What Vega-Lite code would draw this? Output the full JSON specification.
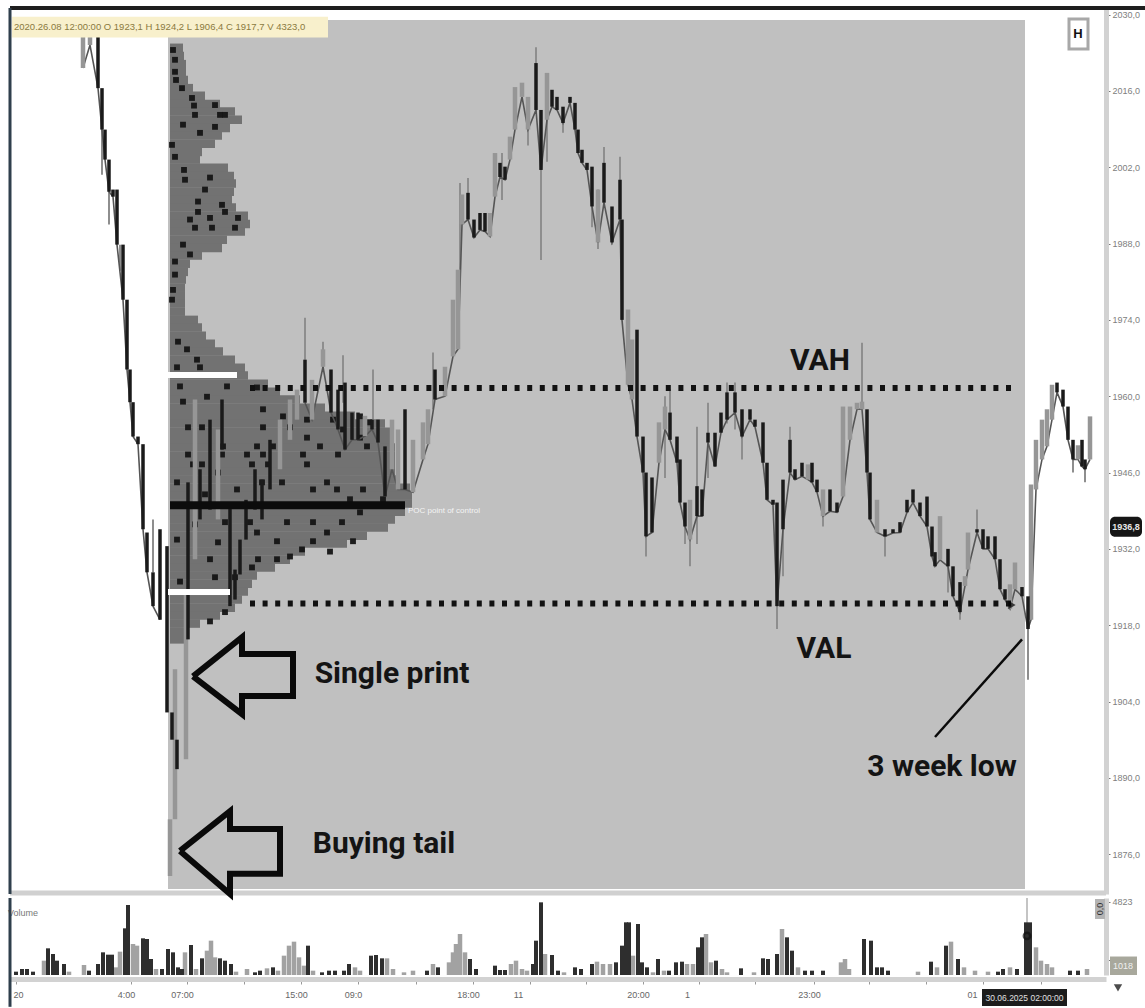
{"$schema":"https://vega.github.io/schema/vega-lite/v6.json","background":"#ffffff","padding":{"left":7,"top":6,"right":0,"bottom":0},"spacing":4,"bounds":"flush","config":{"view":{"stroke":null},"axis":{"grid":false,"labelFont":"Liberation Sans"}},
"datasets":{
"candles":[
{"t":73,"o":2026.3,"c":2020.2,"k":"g"},{"t":80,"o":2026.3,"c":2024.4,"k":"g"},{"t":88,"o":2026.8,"c":2016.5,"k":"d"},{"t":92,"o":2016.5,"c":2008.9,"k":"d"},{"t":95,"o":2008.9,"c":2003.4,"k":"d"},{"t":99,"o":2003.4,"c":1997.5,"k":"d"},{"t":103,"o":1997.9,"c":1996.6,"k":"d"},{"t":107,"o":1997.9,"c":1987.8,"k":"d"},{"t":113,"o":1987.8,"c":1977.7,"k":"d"},{"t":117,"o":1977.7,"c":1964.9,"k":"d"},{"t":120,"o":1964.9,"c":1958.9,"k":"d"},{"t":123,"o":1958.9,"c":1952.6,"k":"d"},{"t":128,"o":1952.6,"c":1951.2,"k":"d"},{"t":133,"o":1951.2,"c":1935.6,"k":"d"},{"t":137,"o":1935,"c":1927.7,"k":"d"},{"t":143,"o":1927.7,"c":1921.5,"k":"d"},{"t":150,"o":1935.6,"c":1919,"k":"d"},{"t":157,"o":1932.5,"c":1902,"k":"d"},{"t":162,"o":1902,"c":1897,"k":"d"},{"t":167,"o":1897,"c":1891.6,"k":"d"},
{"t":165,"o":1909.9,"c":1882.4,"k":"g"},{"t":160,"o":1882.4,"c":1872,"k":"g"},{"t":176,"o":1924.6,"c":1893.4,"k":"g"},
{"t":178,"o":1944.2,"c":1915.4,"k":"d"},{"t":185,"o":1959.4,"c":1930.1,"k":"g"},{"t":190,"o":1946.6,"c":1937.4,"k":"d"},{"t":200,"o":1955.7,"c":1939.2,"k":"d"},{"t":208,"o":1953.9,"c":1937.4,"k":"g"},{"t":212,"o":1959.4,"c":1950.2,"k":"d"},{"t":220,"o":1939.3,"c":1921.5,"k":"d"},{"t":225,"o":1928.2,"c":1922.7,"k":"d"},{"t":230,"o":1933.7,"c":1927.3,"k":"d"},{"t":236,"o":1941,"c":1933.7,"k":"d"},{"t":245,"o":1946.6,"c":1939.2,"k":"d"},{"t":252,"o":1944.7,"c":1937.4,"k":"d"},{"t":260,"o":1952,"c":1942.9,"k":"d"},{"t":270,"o":1955.7,"c":1946.6,"k":"g"},{"t":280,"o":1959.4,"c":1952,"k":"g"},{"t":287,"o":1961.2,"c":1955.7,"k":"g"},{"t":295,"o":1966.7,"c":1958.8,"k":"d"},{"t":302,"o":1963,"c":1955.7,"k":"g"},{"t":313,"o":1968.6,"c":1965.4,"k":"g"},{"t":321,"o":1964.9,"c":1957,"k":"d"},{"t":328,"o":1961.2,"c":1953.9,"k":"d"},{"t":335,"o":1962.5,"c":1950.2,"k":"d"},{"t":342,"o":1957,"c":1952,"k":"d"},{"t":348,"o":1957,"c":1952,"k":"d"},{"t":355,"o":1956.4,"c":1952.7,"k":"g"},{"t":362,"o":1955.7,"c":1953.9,"k":"d"},{"t":368,"o":1955.7,"c":1951.5,"k":"d"},{"t":375,"o":1950.8,"c":1941.6,"k":"d"},{"t":382,"o":1955.7,"c":1946.6,"k":"g"},{"t":388,"o":1953.9,"c":1942.9,"k":"g"},{"t":395,"o":1957.6,"c":1942.9,"k":"d"},{"t":403,"o":1952,"c":1942.4,"k":"g"},{"t":413,"o":1955.2,"c":1948.4,"k":"g"},{"t":418,"o":1957.6,"c":1951.2,"k":"g"},{"t":425,"o":1964.9,"c":1959.4,"k":"d"},{"t":435,"o":1965.4,"c":1960,"k":"g"},{"t":443,"o":1977.7,"c":1967.3,"k":"g"},{"t":448,"o":1983.2,"c":1968.6,"k":"g"},{"t":452,"o":1997,"c":1991.5,"k":"g"},{"t":458,"o":1997.3,"c":1992.4,"k":"d"},{"t":464,"o":1992.4,"c":1989.1,"k":"d"},{"t":470,"o":1993.6,"c":1990.5,"k":"d"},{"t":475,"o":1993.6,"c":1990.2,"k":"d"},{"t":480,"o":1993.6,"c":1989.3,"k":"g"},{"t":485,"o":2004.6,"c":1996.6,"k":"g"},{"t":490,"o":2002.8,"c":2000.2,"k":"d"},{"t":495,"o":2002.1,"c":1999.7,"k":"d"},{"t":500,"o":2007.6,"c":2003.4,"k":"g"},{"t":505,"o":2016.7,"c":2008.9,"k":"g"},{"t":512,"o":2017.5,"c":2014.9,"k":"g"},{"t":518,"o":2014.9,"c":2008.9,"k":"g"},{"t":526,"o":2021.1,"c":2012.5,"k":"d"},{"t":531,"o":2012.5,"c":2001.5,"k":"d"},{"t":537,"o":2019.3,"c":2010.7,"k":"g"},{"t":542,"o":2016.2,"c":2013.1,"k":"d"},{"t":547,"o":2014.9,"c":2012.5,"k":"d"},{"t":553,"o":2013.1,"c":2010.1,"k":"d"},{"t":560,"o":2014.9,"c":2013.8,"k":"d"},{"t":565,"o":2013.8,"c":2008.9,"k":"d"},{"t":568,"o":2008.9,"c":2004.6,"k":"d"},{"t":572,"o":2005.2,"c":2002.8,"k":"d"},{"t":577,"o":2002.8,"c":2001.5,"k":"d"},{"t":582,"o":2002.1,"c":1994.8,"k":"d"},{"t":588,"o":1997.9,"c":1988.2,"k":"g"},{"t":594,"o":2002.8,"c":1995.5,"k":"d"},{"t":602,"o":1994.8,"c":1988.2,"k":"d"},{"t":610,"o":1999.7,"c":1992.4,"k":"d"},{"t":612,"o":1992.4,"c":1974,"k":"d"},{"t":618,"o":1975.9,"c":1962.1,"k":"g"},{"t":622,"o":1970.4,"c":1959.4,"k":"g"},{"t":627,"o":1972.2,"c":1952.6,"k":"d"},{"t":633,"o":1952.6,"c":1946,"k":"d"},{"t":636,"o":1946,"c":1934.3,"k":"d"},{"t":642,"o":1945.1,"c":1935,"k":"d"},{"t":649,"o":1955.2,"c":1947.8,"k":"g"},{"t":655,"o":1958.1,"c":1953.9,"k":"g"},{"t":660,"o":1957,"c":1952,"k":"d"},{"t":667,"o":1952.6,"c":1947.8,"k":"d"},{"t":670,"o":1948.4,"c":1940.5,"k":"d"},{"t":675,"o":1940.5,"c":1936.1,"k":"d"},{"t":680,"o":1941,"c":1933.7,"k":"g"},{"t":687,"o":1943.5,"c":1938,"k":"d"},{"t":692,"o":1942.9,"c":1938,"k":"d"},{"t":698,"o":1953.3,"c":1951.5,"k":"d"},{"t":705,"o":1953.3,"c":1947.1,"k":"d"},{"t":711,"o":1957,"c":1953.3,"k":"d"},{"t":717,"o":1960.7,"c":1955.7,"k":"d"},{"t":725,"o":1960.7,"c":1957,"k":"d"},{"t":732,"o":1957.6,"c":1952.6,"k":"d"},{"t":740,"o":1957.6,"c":1955.7,"k":"d"},{"t":745,"o":1955.7,"c":1954.4,"k":"d"},{"t":753,"o":1955.2,"c":1947.8,"k":"d"},{"t":757,"o":1947.8,"c":1941,"k":"d"},{"t":763,"o":1941,"c":1940.1,"k":"d"},{"t":767,"o":1940.5,"c":1921.5,"k":"d"},{"t":773,"o":1944.7,"c":1935.6,"k":"d"},{"t":780,"o":1952,"c":1946,"k":"d"},{"t":785,"o":1946.6,"c":1944.7,"k":"d"},{"t":792,"o":1947.8,"c":1945.3,"k":"d"},{"t":798,"o":1947.5,"c":1944.7,"k":"g"},{"t":802,"o":1947.8,"c":1944.2,"k":"d"},{"t":807,"o":1944.7,"c":1942.4,"k":"d"},{"t":813,"o":1942.9,"c":1938,"k":"g"},{"t":820,"o":1942.9,"c":1938.9,"k":"d"},{"t":827,"o":1940.5,"c":1938.7,"k":"d"},{"t":833,"o":1958.1,"c":1941.6,"k":"g"},{"t":840,"o":1958.1,"c":1952,"k":"g"},{"t":847,"o":1958.8,"c":1957.6,"k":"g"},{"t":852,"o":1959,"c":1957.6,"k":"g"},{"t":857,"o":1957.6,"c":1946,"k":"d"},{"t":860,"o":1946,"c":1937.4,"k":"d"},{"t":867,"o":1941,"c":1935,"k":"g"},{"t":875,"o":1935.6,"c":1934.3,"k":"d"},{"t":883,"o":1935.6,"c":1934.9,"k":"d"},{"t":890,"o":1936.9,"c":1935,"k":"d"},{"t":897,"o":1941,"c":1938.7,"k":"d"},{"t":903,"o":1942.9,"c":1940.5,"k":"d"},{"t":910,"o":1940.5,"c":1938,"k":"d"},{"t":917,"o":1941.6,"c":1936.1,"k":"d"},{"t":922,"o":1936.1,"c":1930.6,"k":"d"},{"t":925,"o":1931.4,"c":1928.8,"k":"d"},{"t":930,"o":1938,"c":1930,"k":"g"},{"t":938,"o":1932,"c":1928.8,"k":"d"},{"t":943,"o":1928.8,"c":1923.3,"k":"d"},{"t":950,"o":1925.9,"c":1920.4,"k":"d"},{"t":955,"o":1927,"c":1925.2,"k":"g"},{"t":958,"o":1935,"c":1928.2,"k":"g"},{"t":967,"o":1935.6,"c":1935,"k":"d"},{"t":973,"o":1935.6,"c":1932,"k":"d"},{"t":978,"o":1934.3,"c":1932,"k":"d"},{"t":985,"o":1934.3,"c":1930.1,"k":"d"},{"t":990,"o":1930.1,"c":1924.6,"k":"d"},{"t":995,"o":1924.6,"c":1922.7,"k":"d"},{"t":1000,"o":1925.5,"c":1921,"k":"g"},{"t":1005,"o":1929.5,"c":1924.6,"k":"g"},{"t":1012,"o":1925,"c":1923.3,"k":"d"},{"t":1018,"o":1923.3,"c":1917.3,"k":"d"},{"t":1021,"o":1943.8,"c":1919,"k":"g"},{"t":1026,"o":1952,"c":1942.9,"k":"g"},{"t":1032,"o":1955.7,"c":1948.4,"k":"g"},{"t":1037,"o":1957.6,"c":1950.8,"k":"g"},{"t":1042,"o":1962.1,"c":1955.7,"k":"g"},{"t":1047,"o":1962.5,"c":1960.7,"k":"d"},{"t":1053,"o":1961.2,"c":1958.1,"k":"d"},{"t":1058,"o":1958.1,"c":1952,"k":"d"},{"t":1063,"o":1952,"c":1948.4,"k":"d"},{"t":1068,"o":1951,"c":1948.4,"k":"g"},{"t":1072,"o":1952,"c":1947.1,"k":"d"},{"t":1075,"o":1948.4,"c":1946.6,"k":"d"},{"t":1080,"o":1956.3,"c":1948.4,"k":"g"}],
"wicks":[{"t":92,"h":2008.9,"l":2000.6},{"t":99,"h":1997.5,"l":1991.5},{"t":110,"h":1987.8,"l":1983},{"t":143,"h":1937.4,"l":1927.7},{"t":295,"h":1974.4,"l":1966.7},{"t":313,"h":1970,"l":1965},{"t":333,"h":1967.5,"l":1958.8},{"t":363,"h":1964.9,"l":1955.7},{"t":382,"h":1955.2,"l":1950.8},{"t":423,"h":1968,"l":1957.6},{"t":450,"h":1999.1,"l":1983.2},{"t":458,"h":2000,"l":1997},{"t":492,"h":2004.6,"l":1996},{"t":526,"h":2024,"l":2012},{"t":531,"h":2001.5,"l":1985},{"t":553,"h":2010,"l":2008.3},{"t":537,"h":2019.3,"l":2003},{"t":518,"h":2012,"l":2006},{"t":582,"h":1994.8,"l":1991},{"t":588,"h":1997.9,"l":1987},{"t":594,"h":2005.7,"l":1995},{"t":602,"h":1990,"l":1987.8},{"t":610,"h":2003.9,"l":1999},{"t":636,"h":1934.3,"l":1930.6},{"t":675,"h":1940,"l":1932.9},{"t":680,"h":1934,"l":1928.8},{"t":655,"h":1960,"l":1945},{"t":660,"h":1961.3,"l":1952},{"t":687,"h":1954.4,"l":1932.9},{"t":698,"h":1958.8,"l":1945},{"t":717,"h":1962.5,"l":1955},{"t":725,"h":1962.5,"l":1953.9},{"t":732,"h":1957,"l":1948.4},{"t":767,"h":1922,"l":1917.3},{"t":773,"h":1935.6,"l":1927},{"t":780,"h":1954.4,"l":1946},{"t":813,"h":1938,"l":1936.1},{"t":852,"h":1969.8,"l":1957.6},{"t":875,"h":1934.3,"l":1930.6},{"t":938,"h":1929,"l":1924},{"t":950,"h":1921,"l":1919},{"t":967,"h":1939.2,"l":1935},{"t":1018,"h":1917.3,"l":1908},{"t":1063,"h":1948.4,"l":1946},{"t":1075,"h":1946.6,"l":1944.2}],
"levels":[{"p":2023.9,"w":173},{"p":2022.4,"w":174},{"p":2020.9,"w":176},{"p":2019.5,"w":176},{"p":2018,"w":178},{"p":2016.5,"w":183},{"p":2015.1,"w":195},{"p":2013.6,"w":210},{"p":2012.2,"w":225},{"p":2010.7,"w":232},{"p":2009.2,"w":220},{"p":2007.8,"w":212},{"p":2006.3,"w":205},{"p":2004.8,"w":192},{"p":2003.4,"w":190},{"p":2001.9,"w":218},{"p":2000.4,"w":224},{"p":1999,"w":226},{"p":1997.5,"w":224},{"p":1996,"w":222},{"p":1994.6,"w":226},{"p":1993.1,"w":238},{"p":1991.6,"w":240},{"p":1990.2,"w":235},{"p":1988.7,"w":217},{"p":1987.2,"w":212},{"p":1985.8,"w":192},{"p":1984.3,"w":180},{"p":1982.8,"w":178},{"p":1981.4,"w":176},{"p":1979.9,"w":175},{"p":1978.4,"w":175},{"p":1977,"w":175},{"p":1975.5,"w":175},{"p":1974,"w":188},{"p":1972.6,"w":192},{"p":1971.1,"w":196},{"p":1969.6,"w":205},{"p":1968.2,"w":213},{"p":1966.7,"w":225},{"p":1965.2,"w":235},{"p":1963.8,"w":238},{"p":1962.3,"w":258},{"p":1960.8,"w":270},{"p":1959.4,"w":290},{"p":1957.9,"w":315},{"p":1956.4,"w":345},{"p":1955,"w":375},{"p":1953.5,"w":380},{"p":1952,"w":382},{"p":1950.6,"w":385},{"p":1949.1,"w":385},{"p":1947.6,"w":385},{"p":1946.2,"w":385},{"p":1944.7,"w":390},{"p":1943.2,"w":400},{"p":1941.8,"w":402},{"p":1940.3,"w":402},{"p":1938.8,"w":395},{"p":1937.4,"w":385},{"p":1935.9,"w":378},{"p":1934.4,"w":357},{"p":1933,"w":337},{"p":1931.5,"w":295},{"p":1930,"w":280},{"p":1928.6,"w":265},{"p":1927.1,"w":247},{"p":1925.6,"w":242},{"p":1924.2,"w":238},{"p":1922.7,"w":232},{"p":1921.2,"w":225},{"p":1919.8,"w":210},{"p":1918.3,"w":190},{"p":1916.8,"w":178},{"p":1915.4,"w":175}],
"prints":[{"t":163,"p":2023.5},{"t":165,"p":2021.7},{"t":165,"p":2019.5},{"t":166,"p":2018},{"t":172,"p":2016.5},{"t":182,"p":2014.7},{"t":184,"p":2013.3},{"t":185,"p":2011.6},{"t":205,"p":2013.4},{"t":210,"p":2011.6},{"t":215,"p":2011.6},{"t":205,"p":2009.4},{"t":173,"p":2009.8},{"t":190,"p":2008.3},{"t":162,"p":2006.1},{"t":165,"p":2003.9},{"t":174,"p":2001.5},{"t":175,"p":1999.7},{"t":200,"p":2000.1},{"t":195,"p":1997.9},{"t":188,"p":1995.7},{"t":188,"p":1993.8},{"t":212,"p":1995.1},{"t":215,"p":1993.8},{"t":228,"p":1992.7},{"t":225,"p":1990.9},{"t":180,"p":1992.4},{"t":185,"p":1990.9},{"t":200,"p":1992.7},{"t":202,"p":1990.9},{"t":173,"p":1987.8},{"t":180,"p":1986},{"t":165,"p":1984.7},{"t":165,"p":1982.3},{"t":163,"p":1979.5},{"t":162,"p":1977.7},{"t":168,"p":1970},{"t":177,"p":1968.6},{"t":187,"p":1966.7},{"t":167,"p":1965.3},{"t":190,"p":1965.3},{"t":170,"p":1961.8},{"t":173,"p":1959},{"t":197,"p":1959.9},{"t":217,"p":1961.8},{"t":247,"p":1961.6},{"t":253,"p":1957.6},{"t":273,"p":1956.3},{"t":297,"p":1955.7},{"t":323,"p":1955.7},{"t":333,"p":1953.9},{"t":350,"p":1956.3},{"t":360,"p":1955.2},{"t":280,"p":1954.3},{"t":253,"p":1954.3},{"t":178,"p":1954.3},{"t":192,"p":1954.3},{"t":350,"p":1952.4},{"t":297,"p":1952.4},{"t":213,"p":1950.8},{"t":247,"p":1950.8},{"t":263,"p":1950.8},{"t":310,"p":1950.8},{"t":357,"p":1950.8},{"t":178,"p":1949.3},{"t":212,"p":1949.3},{"t":237,"p":1949.3},{"t":253,"p":1949.3},{"t":293,"p":1949.3},{"t":328,"p":1949.3},{"t":183,"p":1947.5},{"t":192,"p":1947.5},{"t":242,"p":1947.5},{"t":258,"p":1947.5},{"t":297,"p":1947.5},{"t":208,"p":1946},{"t":252,"p":1944.2},{"t":272,"p":1944.2},{"t":317,"p":1944.2},{"t":167,"p":1944.2},{"t":227,"p":1942.9},{"t":303,"p":1942.9},{"t":327,"p":1942.9},{"t":353,"p":1942.9},{"t":373,"p":1941.1},{"t":340,"p":1941.1},{"t":350,"p":1938.7},{"t":332,"p":1936.9},{"t":277,"p":1936.9},{"t":240,"p":1936.9},{"t":215,"p":1936.9},{"t":303,"p":1936.9},{"t":247,"p":1935},{"t":317,"p":1935},{"t":343,"p":1933.4},{"t":267,"p":1933.4},{"t":303,"p":1933.4},{"t":208,"p":1933.2},{"t":320,"p":1931.5},{"t":292,"p":1931.9},{"t":280,"p":1930.6},{"t":248,"p":1930.1},{"t":267,"p":1930.1},{"t":242,"p":1928.6},{"t":200,"p":1930.1},{"t":225,"p":1926.8},{"t":205,"p":1926.8},{"t":215,"p":1920.4},{"t":200,"p":1918.7},{"t":167,"p":1933.7},{"t":170,"p":1940},{"t":170,"p":1926},{"t":185,"p":1936.5},{"t":195,"p":1942}],
"volume":[{"t":6,"v":220,"k":"d"},{"t":12,"v":396,"k":"d"},{"t":17,"v":396,"k":"d"},{"t":23,"v":220,"k":"d"},{"t":34,"v":946,"k":"g"},{"t":38,"v":1760,"k":"d"},{"t":43,"v":1386,"k":"d"},{"t":47,"v":946,"k":"d"},{"t":54,"v":726,"k":"d"},{"t":59,"v":220,"k":"g"},{"t":74,"v":660,"k":"g"},{"t":79,"v":286,"k":"d"},{"t":88,"v":726,"k":"d"},{"t":93,"v":1496,"k":"d"},{"t":98,"v":1342,"k":"d"},{"t":102,"v":1342,"k":"d"},{"t":106,"v":506,"k":"g"},{"t":110,"v":1540,"k":"g"},{"t":115,"v":3080,"k":"d"},{"t":118,"v":4620,"k":"d"},{"t":123,"v":2046,"k":"g"},{"t":127,"v":1936,"k":"g"},{"t":133,"v":2420,"k":"d"},{"t":137,"v":2376,"k":"d"},{"t":141,"v":1056,"k":"d"},{"t":146,"v":396,"k":"g"},{"t":152,"v":396,"k":"d"},{"t":158,"v":1716,"k":"d"},{"t":163,"v":1496,"k":"d"},{"t":168,"v":506,"k":"d"},{"t":172,"v":396,"k":"d"},{"t":175,"v":1496,"k":"g"},{"t":181,"v":1980,"k":"d"},{"t":186,"v":396,"k":"g"},{"t":192,"v":1100,"k":"d"},{"t":197,"v":1606,"k":"g"},{"t":201,"v":2266,"k":"g"},{"t":205,"v":1166,"k":"g"},{"t":210,"v":1100,"k":"d"},{"t":215,"v":946,"k":"d"},{"t":221,"v":726,"k":"d"},{"t":226,"v":220,"k":"g"},{"t":237,"v":396,"k":"g"},{"t":245,"v":176,"k":"d"},{"t":250,"v":286,"k":"d"},{"t":257,"v":440,"k":"g"},{"t":263,"v":506,"k":"d"},{"t":268,"v":286,"k":"g"},{"t":274,"v":1276,"k":"g"},{"t":279,"v":1936,"k":"g"},{"t":284,"v":2200,"k":"g"},{"t":289,"v":1166,"k":"g"},{"t":294,"v":616,"k":"g"},{"t":298,"v":1936,"k":"d"},{"t":303,"v":286,"k":"g"},{"t":312,"v":176,"k":"d"},{"t":319,"v":286,"k":"d"},{"t":325,"v":286,"k":"d"},{"t":334,"v":286,"k":"d"},{"t":339,"v":726,"k":"d"},{"t":345,"v":506,"k":"g"},{"t":350,"v":286,"k":"g"},{"t":361,"v":1276,"k":"d"},{"t":366,"v":1320,"k":"d"},{"t":372,"v":1100,"k":"d"},{"t":377,"v":1100,"k":"g"},{"t":383,"v":396,"k":"g"},{"t":394,"v":176,"k":"g"},{"t":403,"v":286,"k":"g"},{"t":417,"v":286,"k":"d"},{"t":423,"v":726,"k":"g"},{"t":428,"v":506,"k":"d"},{"t":439,"v":836,"k":"g"},{"t":443,"v":1496,"k":"g"},{"t":446,"v":2046,"k":"g"},{"t":450,"v":2706,"k":"g"},{"t":455,"v":1496,"k":"g"},{"t":460,"v":1056,"k":"d"},{"t":466,"v":396,"k":"d"},{"t":485,"v":616,"k":"d"},{"t":490,"v":330,"k":"d"},{"t":495,"v":330,"k":"d"},{"t":501,"v":726,"k":"g"},{"t":506,"v":946,"k":"g"},{"t":512,"v":396,"k":"g"},{"t":517,"v":286,"k":"g"},{"t":523,"v":726,"k":"d"},{"t":526,"v":2266,"k":"d"},{"t":531,"v":4796,"k":"d"},{"t":535,"v":1386,"k":"g"},{"t":542,"v":1320,"k":"d"},{"t":548,"v":286,"k":"d"},{"t":554,"v":176,"k":"g"},{"t":565,"v":506,"k":"d"},{"t":571,"v":396,"k":"d"},{"t":582,"v":726,"k":"d"},{"t":587,"v":880,"k":"g"},{"t":593,"v":726,"k":"g"},{"t":600,"v":726,"k":"g"},{"t":606,"v":836,"k":"d"},{"t":612,"v":1936,"k":"d"},{"t":616,"v":3476,"k":"d"},{"t":619,"v":3476,"k":"d"},{"t":623,"v":1276,"k":"g"},{"t":628,"v":3366,"k":"d"},{"t":632,"v":836,"k":"d"},{"t":637,"v":506,"k":"d"},{"t":643,"v":176,"k":"g"},{"t":648,"v":1056,"k":"d"},{"t":654,"v":286,"k":"g"},{"t":659,"v":286,"k":"d"},{"t":666,"v":836,"k":"d"},{"t":672,"v":880,"k":"d"},{"t":677,"v":726,"k":"g"},{"t":683,"v":726,"k":"g"},{"t":688,"v":1826,"k":"d"},{"t":692,"v":2486,"k":"d"},{"t":696,"v":2706,"k":"g"},{"t":701,"v":836,"k":"g"},{"t":706,"v":946,"k":"d"},{"t":712,"v":396,"k":"g"},{"t":717,"v":176,"k":"g"},{"t":731,"v":440,"k":"d"},{"t":744,"v":176,"k":"g"},{"t":753,"v":1100,"k":"d"},{"t":758,"v":1056,"k":"d"},{"t":767,"v":1386,"k":"d"},{"t":772,"v":3036,"k":"g"},{"t":777,"v":2486,"k":"d"},{"t":782,"v":1606,"k":"d"},{"t":788,"v":506,"k":"g"},{"t":795,"v":286,"k":"d"},{"t":802,"v":286,"k":"d"},{"t":813,"v":286,"k":"d"},{"t":831,"v":836,"k":"g"},{"t":835,"v":1056,"k":"g"},{"t":839,"v":396,"k":"g"},{"t":854,"v":2376,"k":"d"},{"t":861,"v":2266,"k":"d"},{"t":867,"v":506,"k":"d"},{"t":872,"v":506,"k":"d"},{"t":878,"v":286,"k":"d"},{"t":908,"v":220,"k":"g"},{"t":921,"v":880,"k":"d"},{"t":927,"v":506,"k":"g"},{"t":936,"v":1936,"k":"d"},{"t":941,"v":2200,"k":"g"},{"t":948,"v":1056,"k":"d"},{"t":954,"v":506,"k":"g"},{"t":965,"v":286,"k":"g"},{"t":978,"v":220,"k":"g"},{"t":988,"v":220,"k":"d"},{"t":993,"v":396,"k":"d"},{"t":1000,"v":506,"k":"g"},{"t":1007,"v":396,"k":"d"},{"t":1016,"v":3476,"k":"d"},{"t":1020,"v":3476,"k":"d"},{"t":1026,"v":1826,"k":"g"},{"t":1031,"v":946,"k":"g"},{"t":1037,"v":726,"k":"g"},{"t":1042,"v":506,"k":"g"},{"t":1060,"v":286,"k":"d"},{"t":1068,"v":286,"k":"d"},{"t":1077,"v":396,"k":"g"}],
"arrows":[{"id":"single","i":1,"t":183,"p":1908.6},{"id":"single","i":2,"t":232,"p":1915.8},{"id":"single","i":3,"t":232,"p":1912.7},{"id":"single","i":4,"t":283,"p":1912.7},{"id":"single","i":5,"t":283,"p":1905},{"id":"single","i":6,"t":232,"p":1905},{"id":"single","i":7,"t":232,"p":1901.7},{"id":"single","i":8,"t":183,"p":1908.6},{"id":"tail","i":1,"t":170,"p":1876.6},{"id":"tail","i":2,"t":220,"p":1883.9},{"id":"tail","i":3,"t":220,"p":1880.6},{"id":"tail","i":4,"t":270,"p":1880.6},{"id":"tail","i":5,"t":270,"p":1872.4},{"id":"tail","i":6,"t":220,"p":1872.4},{"id":"tail","i":7,"t":220,"p":1868.7},{"id":"tail","i":8,"t":170,"p":1876.6},{"id":"low","i":1,"t":1012,"p":1915.4},{"id":"low","i":2,"t":925,"p":1897.5}]
},
"vconcat":[
{"width":1096,"height":886,
"layer":[
{"data":{"values":[{"a":158,"b":1015,"top":2029,"bottom":1869.6}]},"mark":{"type":"rect","color":"#c0c0c0"},"encoding":{"x":{"field":"a","type":"quantitative","scale":{"domain":[0,1096],"nice":false,"zero":false,"padding":0},"axis":null},"x2":{"field":"b"},"y":{"field":"top","type":"quantitative","scale":{"domain":[1868.7,2031.2],"nice":false,"zero":false,"padding":0},"axis":{"orient":"right","values":[2030,2016,2002,1988,1974,1960,1946,1932,1918,1904,1890,1876],"labelExpr":"replace(format(datum.value,'.1f'),'.',',')","title":null,"tickSize":4,"tickColor":"#777777","labelColor":"#808080","labelFontSize":9,"labelPadding":2,"domainColor":"#d2d2d2","domainWidth":5,"labelOverlap":false,"labelBound":false}},"y2":{"field":"bottom"}}},
{"data":{"values":[{"a":340,"b":372,"top":1949.9,"bottom":1943.8}]},"mark":{"type":"rect","color":"#d6d6d6"},"encoding":{"x":{"field":"a","type":"quantitative"},"x2":{"field":"b"},"y":{"field":"top","type":"quantitative"},"y2":{"field":"bottom"}}},
{"data":{"name":"levels"},"mark":{"type":"bar","color":"#727272","size":8.5},"encoding":{"x":{"field":"w","type":"quantitative"},"x2":{"datum":160},"y":{"field":"p","type":"quantitative"}}},
{"data":{"name":"prints"},"mark":{"type":"square","color":"#141414","size":34,"opacity":0.95},"encoding":{"x":{"field":"t","type":"quantitative"},"y":{"field":"p","type":"quantitative"}}},
{"data":{"name":"wicks"},"mark":{"type":"rule","color":"#8e8e8e","strokeWidth":2},"encoding":{"x":{"field":"t","type":"quantitative"},"y":{"field":"h","type":"quantitative"},"y2":{"field":"l"}}},
{"data":{"name":"candles"},"transform":[{"filter":"datum.t<157"}],"mark":{"type":"line","color":"#555555","strokeWidth":1.6},"encoding":{"x":{"field":"t","type":"quantitative"},"y":{"field":"c","type":"quantitative"},"order":{"field":"t"}}},
{"data":{"name":"candles"},"transform":[{"filter":"datum.t>=295"}],"mark":{"type":"line","color":"#555555","strokeWidth":1.6},"encoding":{"x":{"field":"t","type":"quantitative"},"y":{"field":"c","type":"quantitative"},"order":{"field":"t"}}},
{"data":{"name":"candles"},"transform":[{"filter":"datum.k=='g'"}],"mark":{"type":"rule","color":"#969696","strokeWidth":4.5},"encoding":{"x":{"field":"t","type":"quantitative"},"y":{"field":"o","type":"quantitative"},"y2":{"field":"c"}}},
{"data":{"name":"candles"},"transform":[{"filter":"datum.k=='d'"}],"mark":{"type":"rule","color":"#1a1a1a","strokeWidth":3.5},"encoding":{"x":{"field":"t","type":"quantitative"},"y":{"field":"o","type":"quantitative"},"y2":{"field":"c"}}},
{"data":{"values":[{"a":158,"b":227,"p":1963.9},{"a":158,"b":220,"p":1924.1}]},"mark":{"type":"rule","color":"#ffffff","strokeWidth":6},"encoding":{"x":{"field":"a","type":"quantitative"},"x2":{"field":"b"},"y":{"field":"p","type":"quantitative"}}},
{"data":{"values":[{"a":160,"b":395,"p":1940}]},"mark":{"type":"rule","color":"#0c0c0c","strokeWidth":8},"encoding":{"x":{"field":"a","type":"quantitative"},"x2":{"field":"b"},"y":{"field":"p","type":"quantitative"}}},
{"data":{"values":[{"a":240,"b":1005,"p":1961.5},{"a":240,"b":1005,"p":1922}]},"mark":{"type":"rule","color":"#111111","strokeWidth":6,"strokeDash":[5,7.6]},"encoding":{"x":{"field":"a","type":"quantitative"},"x2":{"field":"b"},"y":{"field":"p","type":"quantitative"}}},
{"data":{"values":[{"a":0,"b":1135,"p":2031.2}]},"mark":{"type":"rule","color":"#1e1e1e","strokeWidth":4},"encoding":{"x":{"field":"a","type":"quantitative"},"x2":{"field":"b"},"y":{"field":"p","type":"quantitative"}}},
{"data":{"values":[{"a":0,"b":1096,"p":1868.9}]},"mark":{"type":"rule","color":"#d0d0d0","strokeWidth":5},"encoding":{"x":{"field":"a","type":"quantitative"},"x2":{"field":"b"},"y":{"field":"p","type":"quantitative"}}},
{"data":{"name":"arrows"},"transform":[{"filter":"datum.id!='low'"}],"mark":{"type":"line","color":"#0a0a0a","strokeWidth":6,"strokeJoin":"miter"},"encoding":{"x":{"field":"t","type":"quantitative"},"y":{"field":"p","type":"quantitative"},"detail":{"field":"id"},"order":{"field":"i"}}},
{"data":{"name":"arrows"},"transform":[{"filter":"datum.id=='low'"}],"mark":{"type":"line","color":"#0a0a0a","strokeWidth":2.5},"encoding":{"x":{"field":"t","type":"quantitative"},"y":{"field":"p","type":"quantitative"},"order":{"field":"i"}}},
{"data":{"values":[{"t":1002,"p":1921.7}]},"mark":{"type":"point","shape":"triangle-right","filled":true,"color":"#000000","size":70},"encoding":{"x":{"field":"t","type":"quantitative"},"y":{"field":"p","type":"quantitative"}}},
{"data":{"values":[{"t":0,"h":2031.2,"l":1868.7}]},"mark":{"type":"rule","color":"#2f3f4c","strokeWidth":3},"encoding":{"x":{"field":"t","type":"quantitative"},"y":{"field":"h","type":"quantitative"},"y2":{"field":"l"}}},
{"data":{"values":[{"a":2,"b":318,"top":2029.6,"bottom":2025.8}]},"mark":{"type":"rect","color":"#f8f0cc"},"encoding":{"x":{"field":"a","type":"quantitative"},"x2":{"field":"b"},"y":{"field":"top","type":"quantitative"},"y2":{"field":"bottom"}}},
{"data":{"values":[{"t":4,"p":2027.7,"label":"2020.26.08 12:00:00 O 1923,1 H 1924,2 L 1906,4 C 1917,7 V 4323,0"}]},"mark":{"type":"text","align":"left","baseline":"middle","font":"Liberation Sans","fontSize":9.5,"color":"#8a7a40"},"encoding":{"x":{"field":"t","type":"quantitative"},"y":{"field":"p","type":"quantitative"},"text":{"field":"label"}}},
{"data":{"values":[{"a":1059,"b":1078,"top":2029.2,"bottom":2023.7}]},"mark":{"type":"rect","fill":"#ffffff","stroke":"#a8a8a8","strokeWidth":3},"encoding":{"x":{"field":"a","type":"quantitative"},"x2":{"field":"b"},"y":{"field":"top","type":"quantitative"},"y2":{"field":"bottom"}}},
{"data":{"values":[{"t":1068,"p":2026.4,"label":"H"}]},"mark":{"type":"text","align":"center","baseline":"middle","font":"Liberation Sans","fontWeight":"bold","fontSize":13,"color":"#111111"},"encoding":{"x":{"field":"t","type":"quantitative"},"y":{"field":"p","type":"quantitative"},"text":{"field":"label"}}},
{"data":{"values":[{"t":810,"p":1966.4,"label":"VAH"},{"t":814,"p":1913.6,"label":"VAL"},{"t":382,"p":1909,"label":"Single print"},{"t":374,"p":1877.9,"label":"Buying tail"},{"t":932,"p":1892,"label":"3 week low"}]},"mark":{"type":"text","align":"center","baseline":"middle","font":"Roboto","fontSize":30,"fontWeight":"bold","color":"#141414"},"encoding":{"x":{"field":"t","type":"quantitative"},"y":{"field":"p","type":"quantitative"},"text":{"field":"label"}}},
{"data":{"values":[{"t":398,"p":1938.9,"label":"POC point of control"}]},"mark":{"type":"text","align":"left","baseline":"middle","fontSize":8,"font":"Liberation Sans","color":"#f4f4f4"},"encoding":{"x":{"field":"t","type":"quantitative"},"y":{"field":"p","type":"quantitative"},"text":{"field":"label"}}},
{"data":{"values":[{"a":1100,"b":1132,"top":1937.9,"bottom":1934.2}]},"mark":{"type":"rect","color":"#151515","cornerRadius":5},"encoding":{"x":{"field":"a","type":"quantitative"},"x2":{"field":"b"},"y":{"field":"top","type":"quantitative"},"y2":{"field":"bottom"}}},
{"data":{"values":[{"t":1116,"p":1936,"label":"1936,8"}]},"mark":{"type":"text","align":"center","baseline":"middle","fontSize":9,"font":"Liberation Sans","fontWeight":"bold","color":"#e8e8e8"},"encoding":{"x":{"field":"t","type":"quantitative"},"y":{"field":"p","type":"quantitative"},"text":{"field":"label"}}}
]},
{"width":1096,"height":77,
"layer":[
{"data":{"values":[{"t":13,"v":4100,"label":"Volume"}]},"mark":{"type":"text","fontSize":9,"font":"Liberation Sans","color":"#777777"},"encoding":{"x":{"field":"t","type":"quantitative","scale":{"domain":[0,1096],"nice":false,"zero":false,"padding":0},"axis":{"values":[6,121,177,234,291,348,406,463,520,576,633,689,745,804,859,916,973,1031],"labelExpr":"{'6':'20','121':'4:00','177':'07:00','291':'15:00','348':'09:0','463':'18:00','520':'11','633':'20:00','689':'1','804':'23:00','973':'01'}[datum.value]||''","title":null,"offset":4,"tickSize":5,"tickColor":"#999999","labelColor":"#666666","labelFontSize":9,"labelPadding":6,"labelOffset":{"condition":[{"test":"datum.value==973","value":-11},{"test":"datum.value==520||datum.value==689","value":-12},{"test":"datum.value==6","value":2}],"value":-5},"domainColor":"#d2d2d2","domainWidth":5,"labelOverlap":false,"labelFlush":false}},"y":{"field":"v","type":"quantitative","scale":{"domain":[0,5082],"nice":false,"padding":0},"axis":{"orient":"right","values":[4823,1000],"labelExpr":"datum.value==4823?'4823':''","title":null,"tickSize":4,"tickColor":"#777777","labelColor":"#808080","labelFontSize":9,"labelPadding":2,"domainColor":"#d2d2d2","domainWidth":5}},"text":{"field":"label"}}},
{"data":{"values":[{"t":1017,"h":5082,"l":3000}]},"mark":{"type":"rule","color":"#c4c4c4","strokeWidth":2},"encoding":{"x":{"field":"t","type":"quantitative"},"y":{"field":"h","type":"quantitative"},"y2":{"field":"l"}}},
{"data":{"name":"volume"},"transform":[{"filter":"datum.k=='g'"}],"mark":{"type":"bar","color":"#a2a2a2","size":4.5},"encoding":{"x":{"field":"t","type":"quantitative"},"y":{"field":"v","type":"quantitative"}}},
{"data":{"name":"volume"},"transform":[{"filter":"datum.k=='d'"}],"mark":{"type":"bar","color":"#2e2e2e","size":4},"encoding":{"x":{"field":"t","type":"quantitative"},"y":{"field":"v","type":"quantitative"}}},
{"data":{"values":[{"t":1017,"v":2580}]},"mark":{"type":"point","shape":"circle","color":"#111111","size":40,"strokeWidth":2.5},"encoding":{"x":{"field":"t","type":"quantitative"},"y":{"field":"v","type":"quantitative"}}},
{"data":{"values":[{"t":0,"h":5082,"l":-2100}]},"mark":{"type":"rule","color":"#2f3f4c","strokeWidth":3},"encoding":{"x":{"field":"t","type":"quantitative"},"y":{"field":"h","type":"quantitative"},"y2":{"field":"l"}}},
{"data":{"values":[{"a":1085,"b":1095,"top":5016,"bottom":3696}]},"mark":{"type":"rect","color":"#b4b4b4"},"encoding":{"x":{"field":"a","type":"quantitative"},"x2":{"field":"b"},"y":{"field":"top","type":"quantitative"},"y2":{"field":"bottom"}}},
{"data":{"values":[{"t":1090,"v":4350,"label":"0,0"}]},"mark":{"type":"text","angle":270,"fontSize":9,"font":"Liberation Sans","color":"#333333"},"encoding":{"x":{"field":"t","type":"quantitative"},"y":{"field":"v","type":"quantitative"},"text":{"field":"label"}}},
{"data":{"values":[{"a":1100,"b":1127,"top":1220,"bottom":0}]},"mark":{"type":"rect","color":"#a8a89c"},"encoding":{"x":{"field":"a","type":"quantitative"},"x2":{"field":"b"},"y":{"field":"top","type":"quantitative"},"y2":{"field":"bottom"}}},
{"data":{"values":[{"t":1113,"v":600,"label":"1018"}]},"mark":{"type":"text","fontSize":9,"font":"Liberation Sans","color":"#f0f0f0"},"encoding":{"x":{"field":"t","type":"quantitative"},"y":{"field":"v","type":"quantitative"},"text":{"field":"label"}}},
{"data":{"values":[{"t":1108,"v":-850}]},"mark":{"type":"point","shape":"triangle-down","filled":true,"color":"#000000","size":70},"encoding":{"x":{"field":"t","type":"quantitative"},"y":{"field":"v","type":"quantitative"}}},
{"data":{"values":[{"a":972,"b":1057,"top":-924,"bottom":-2046}]},"mark":{"type":"rect","color":"#1c1c1c"},"encoding":{"x":{"field":"a","type":"quantitative"},"x2":{"field":"b"},"y":{"field":"top","type":"quantitative"},"y2":{"field":"bottom"}}},
{"data":{"values":[{"t":1014.5,"v":-1485,"label":"30.06.2025 02:00:00"}]},"mark":{"type":"text","fontSize":8.5,"font":"Liberation Sans","color":"#e0e0e0"},"encoding":{"x":{"field":"t","type":"quantitative"},"y":{"field":"v","type":"quantitative"},"text":{"field":"label"}}}
]}
]}
